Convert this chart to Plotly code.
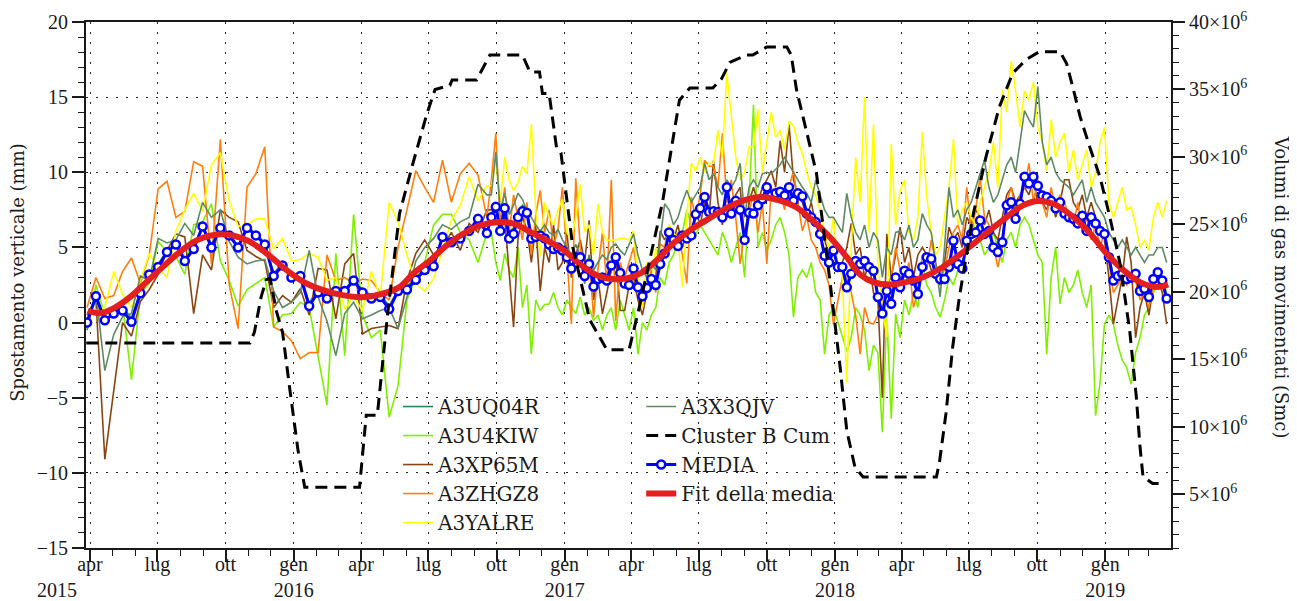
import pandas as pd
import plotly.graph_objects as go

# ---------------- acquisition dates (12-day revisit, then 6-day revisit) ----------------
SEG1_START, SEG1_N, SEG1_STEP = "2015-03-28", 46, "12D"
SEG2_START, SEG2_N, SEG2_STEP = "2016-09-24", 153, "6D"
dates = list(pd.date_range(SEG1_START, periods=SEG1_N, freq=SEG1_STEP)) + \
        list(pd.date_range(SEG2_START, periods=SEG2_N, freq=SEG2_STEP))

# ---------------- vertical displacement series (mm) ----------------
MEDIA = [
    0.0, 1.75, 0.15, 0.6, 0.8, 0.05, 1.95, 3.2, 3.7, 4.7,
    5.2, 4.1, 4.9, 6.4, 5.0, 6.3, 5.8, 5.0, 6.3, 5.8,
    5.2, 3.1, 3.8, 3.0, 3.1, 1.1, 2.0, 1.6, 2.1, 2.1,
    2.8, 2.0, 1.6, 1.7, 0.9, 2.1, 2.2, 2.85, 3.5, 3.75,
    5.7, 5.35, 5.6, 6.1, 6.9, 5.95,
    7.0, 7.7, 6.1, 7.6, 5.6, 5.9, 7.0, 7.4, 7.3, 5.6,
    5.7, 5.8, 5.6, 5.2, 4.9, 5.0, 4.8, 4.35, 3.6, 4.35,
    4.35, 3.1, 3.9, 2.4, 2.9, 3.0, 2.8, 3.8, 4.35, 3.3,
    2.6, 2.5, 3.6, 2.35, 1.75, 2.3, 2.9, 2.5, 3.9, 4.6,
    6.0, 5.5, 5.1, 5.8, 5.6, 5.8, 7.2, 7.6, 8.35, 7.35,
    7.4, 7.35, 7.0, 9.0, 7.25, 8.1, 7.5, 5.5, 7.3, 7.25,
    7.8, 8.2, 9.0, 8.45, 8.6, 8.7, 8.45, 9.0, 8.1, 8.6,
    8.4, 7.25, 7.0, 6.7, 5.9, 4.45, 4.0, 4.8, 3.7, 3.7,
    2.35, 3.25, 4.1, 3.9, 4.1, 3.7, 3.45, 1.7, 0.6, 2.1,
    1.25, 3.0, 2.35, 3.45, 3.25, 2.8, 1.9, 3.7, 4.35, 4.25,
    3.25, 2.9, 2.9, 3.7, 5.45, 3.9, 3.6, 5.45, 5.9, 6.0,
    6.8, 5.9, 6.1, 5.0, 4.7, 5.35, 7.8, 8.0, 6.9, 7.9,
    9.7, 9.25, 9.7, 9.1, 8.45, 8.35, 8.1, 7.6, 8.0, 7.25,
    7.0, 6.9, 6.6, 7.1, 6.1, 7.0, 6.6, 6.1, 5.9, 4.35,
    2.8, 3.1, 3.25, 2.9, 3.0, 3.25, 2.1, 2.25, 1.7, 2.9, 3.35, 2.8, 1.6,
]

A3UQ04R = [
    0.2, 1.9, 0.0, 0.8, 1.0, 0.3, 2.1, 3.3, 3.9, 4.8,
    5.3, 4.3, 5.0, 6.5, 5.2, 6.4, 5.9, 5.1, 6.4, 5.9,
    5.3, 3.3, 3.9, 3.2, 3.2, 1.3, 2.2, 1.8, 2.3, 2.2,
    2.9, 2.2, 1.8, 1.9, 1.1, 2.2, 2.4, 3.0, 3.6, 3.9,
    5.8, 5.5, 5.7, 6.2, 7.0, 6.1,
    7.2, 8.0, 6.5, 7.8, 6.0, 6.3, 7.4, 7.8, 7.5, 6.0,
    5.9, 6.0, 5.8, 5.5, 5.0, 5.2, 5.0, 4.6, 3.8, 4.5,
    4.5, 3.4, 4.2, 2.6, 3.1, 3.2, 3.0, 4.0, 4.5, 3.5,
    2.8, 2.7, 3.7, 2.5, 2.0, 2.4, 3.0, 2.7, 4.0, 4.7,
    6.0, 5.6, 5.3, 6.0, 5.8, 6.0, 7.3, 7.8, 8.4, 7.5,
    7.6, 7.5, 7.2, 9.0, 7.4, 8.2, 7.8, 5.8, 7.5, 7.4,
    7.9, 8.3, 9.1, 8.6, 8.8, 8.8, 8.6, 9.1, 8.3, 8.7,
    8.5, 7.4, 7.2, 6.9, 6.0, 4.6, 4.2, 5.0, 3.8, 3.8,
    2.6, 3.4, 4.3, 4.0, 4.3, 3.9, 3.6, 2.0, 0.8, 2.3,
    1.5, 3.2, 2.6, 3.6, 3.4, 3.0, 2.1, 3.9, 4.5, 4.4,
    3.4, 3.0, 3.1, 3.8, 5.5, 4.1, 3.8, 5.6, 6.0, 6.2,
    6.9, 6.0, 6.3, 5.2, 4.9, 5.5, 7.9, 8.2, 7.0, 8.0,
    9.8, 9.4, 9.8, 9.2, 8.6, 8.5, 8.2, 7.7, 8.1, 7.4,
    7.1, 7.0, 6.7, 7.2, 6.2, 7.1, 6.8, 6.3, 6.0, 4.5,
    3.0, 3.3, 3.4, 3.0, 3.1, 3.4, 2.2, 2.4, 1.8, 3.0, 3.5, 2.9, 1.7,
]

A3U4KIW = [
    -0.5, 2.5, 0.5, 0.8, 1.2, -3.8, 1.9, 2.6, 5.4, 4.7,
    4.4, 3.2, 6.5, 6.7, 7.9, 4.1, 2.8, 1.1, 2.2, 2.6,
    3.0, -0.3, 0.5, 0.6, 1.35, 1.0, -2.2, -5.5, 4.6, -2.2,
    7.2, 0.5, -1.0, -0.5, -6.3, -4.2, 1.5, 3.0, 4.0, 6.5,
    7.2, 7.2, 6.0, 5.5, 4.0, 6.0,
    6.0, 4.0, 2.8, 4.6, 3.5, 3.0, 5.0, 1.0, 2.5, -2.1,
    1.5, 0.8, 1.2, 1.24, 2.0, 1.0, 0.5, 1.5, 1.0, 0.6,
    1.69, 0.5, 1.0, 0.13, 0.5, -0.5, 0.5, 1.0, -0.5, 1.5,
    0.5, -0.5, 1.0, -2.1, 0.0, -0.5, 0.5, 1.0, 3.0, 2.5,
    4.0, 4.5, 5.5, 6.0, 7.5, 6.5, 5.8, 6.5, 6.0, 5.5,
    5.0, 4.5, 6.0, 5.24, 4.0, 5.0, 6.0, 3.0, 8.0, 14.5,
    5.0, 6.0, 4.8, 5.5, 6.5, 7.0, 6.0, 4.5, 0.36, 3.0,
    3.5, 3.0, 4.0, 2.0, 1.5, -2.1, 0.5, 1.0, 0.0, -1.0,
    -1.9, -1.0, 1.0, 0.5, -0.5, -3.2, -1.5, -2.0, -7.3, 0.5,
    -6.4, 0.58, -1.0, 1.5, 0.5, 2.0, 1.0, 3.9, 2.5, 2.0,
    1.0, 0.36, 1.5, 3.0, 2.5, 3.5, 4.0, 5.0, 7.0, 6.0,
    5.5, 4.5, 5.0, 6.0, 5.0, 4.0, 5.5, 6.0, 5.0, 6.5,
    7.0, 6.5, 5.5, 4.5, 4.0, -2.1, 3.0, 5.0, 1.24, 3.0,
    2.0, 2.5, 3.5, 2.0, 1.0, 2.5, -6.2, -4.0, -0.1, 0.5,
    -0.1, -1.5, -2.5, -3.0, -4.1, -2.0, -1.0, 0.5, 1.0, 2.0, 2.5, 3.0, 2.0,
]

A3XP65M = [
    0.5, 1.5, -9.1, -4.5, 0.0, -0.9, 1.4, 2.2, 3.2, 4.8,
    5.9, 5.7, 0.6, 4.5, 3.5, 7.5, 7.0, 6.7, 4.8, 4.4,
    4.1, 1.0, 1.8, 1.35, 2.25, 0.5, 3.6, 3.5, 0.25, 3.9,
    4.6, -0.75, -0.4, -0.3, -0.2, -0.4, 2.8, 4.6, 5.5, 4.5,
    5.0, 6.0, 4.8, 6.6, 6.0, 7.5,
    7.5, 8.0, 5.8, 7.0, 3.5, -0.3, 5.6, 7.0, 6.2, 4.0,
    6.5, 2.1, 5.0, 4.0, 6.5, 3.5, 4.0, 6.0, 3.0, 4.5,
    5.5, 4.0, 6.8, 1.5, 3.0, 0.58, 2.0, 3.5, 4.5, 0.8,
    0.8, 2.5, 3.0, 1.5, 0.5, 2.0, 2.5, 3.0, 6.1, 5.5,
    6.0, 5.5, 6.5, 5.0, 6.0, 5.5, 7.5, 6.5, 8.0, 7.0,
    10.8, 8.0, 6.5, 8.5, 7.0, 8.5, 9.0, 5.5, 8.0, 9.0,
    8.0, 9.0, 9.5, 10.1, 9.0, 12.1, 10.0, 13.2, 9.5, 8.5,
    8.0, 7.0, 8.0, 6.5, 6.0, 5.5, 4.5, 5.0, 3.5, 4.0,
    5.0, 6.6, 4.5, 5.0, 3.0, 4.0, 2.0, 1.5, -5.0, 5.9,
    3.0, 4.5, 6.35, 4.0, 5.0, 3.0, 4.5, 5.0, 4.5, 3.5,
    3.0, 2.5, 4.0, 6.35, 5.5, 6.0, 5.0, 7.0, 6.5, 7.5,
    7.0, 6.5, 7.5, 6.0, 5.5, 7.0, 8.5, 9.0, 8.0, 8.5,
    9.0, 8.5, 9.5, 8.0, 8.0, 7.5, 8.5, 7.0, 8.0, 9.5,
    9.5, 8.0, 7.5, 8.5, 7.0, 8.0, 7.0, 6.5, 5.5, 3.0,
    -0.1, 1.5, 3.0, 5.7, 4.0, -1.0, 1.0, 2.0, 0.5, 2.5, 3.0, 2.0, -0.1,
]

A3ZHGZ8 = [
    1.0, 3.0, 1.6, 1.8, 3.4, 4.3, 2.6, 4.5, 8.9, 9.4,
    7.0, 7.4, 10.7, 10.4, 3.9, 12.2, 2.5, -0.4, 9.0, 9.9,
    11.7, -0.3, -0.6, -1.2, -2.4, -2.0, -2.0, 4.5, 2.8, 3.0,
    2.6, 2.9, 2.8, 2.0, 1.5, 5.0, 7.5, 10.1, 9.0, 8.0,
    10.8, 8.0, 9.9, 10.6, 9.8, 7.0,
    9.5, 12.6, 6.5, 9.0, 6.0, 8.5, 7.0, 5.5, 8.0, 4.5,
    7.2, 8.8, 6.0, 7.5, 5.0, 6.2, 9.0, 4.2, -0.1, 9.6,
    5.0, 3.0, 4.5, 0.36, 3.5, 6.0, 2.5, 9.5, 0.13, 4.0,
    3.0, 4.0, 5.0, 3.0, 1.0, 2.5, 3.5, 2.0, 5.24, 5.0,
    6.5, 5.5, 6.0, 4.5, 2.6, 8.35, 7.0, 8.5, 10.8, 10.4,
    10.4, 9.0, 12.6, 8.0, 9.5, 7.0, 3.9, 6.0, 7.5, 8.5,
    6.0, 8.0, 3.9, 9.0, 8.0, 8.8, 7.5, 9.0, 10.1, 8.0,
    6.1, 7.0, 5.5, 5.0, 4.0, 3.5, 2.5, -0.1, 1.5, 3.0,
    3.0, 2.0, 0.5, -2.1, 1.0, 0.0, -0.1, 0.5, 1.5, 2.5,
    3.0, 5.0, 3.5, 3.0, 4.0, 1.0, 2.0, 4.5, 3.5, 5.5,
    4.0, 3.0, 3.5, 5.0, 6.0, 6.5, 5.5, 9.0, 6.0, 7.5,
    9.7, 7.0, 6.5, 5.0, 3.7, 5.0, 8.0, 9.0, 7.5, 8.5,
    9.0, 10.6, 8.0, 9.5, 8.0, 7.0, 9.0, 7.5, 8.5, 8.0,
    7.0, 6.5, 8.0, 6.0, 7.0, 5.5, 6.5, 5.0, 6.0, 4.0,
    2.0, 2.5, 3.0, 2.5, 3.0, 2.8, 1.5, 2.0, 1.0, 2.5, 3.0, 2.5, 1.5,
]

A3YALRE = [
    0.3, 0.8, 1.0, 3.4, 1.9, 1.0, 2.8, 4.6, 3.7, 3.0,
    6.1, 7.5, 8.6, 7.4, 10.5, 11.3, 8.1, 6.4, 6.5, 6.9,
    6.9, 4.9, 5.6, 4.1, 4.2, 4.6, 4.35, 2.8, 3.0, 0.9,
    1.7, 0.8, 3.4, 1.7, 8.0, 6.7, 4.5, 2.6, 2.1, 2.9,
    4.8, 6.8, 7.8, 9.7, 8.1, 9.1,
    9.1, 10.8, 8.0, 11.0, 9.5, 8.8, 9.3, 10.4, 9.9, 13.2,
    7.5, 4.4, 8.0, 7.0, 6.5, 7.5, 8.2, 6.0, 5.5, 7.0,
    9.2, 6.0, 6.5, 4.5, 7.9, 6.0, 5.47, 5.5, 5.5, 5.6,
    5.6, 5.5, 6.1, 3.0, 1.0, 4.0, 2.5, 5.0, 3.5, 4.5,
    6.5, 6.0, 5.5, 2.36, 7.0, 10.6, 10.1, 11.0, 10.0, 10.6,
    10.6, 12.8, 11.0, 16.6, 13.9, 11.0, 9.5, 10.0, 11.7, 11.7,
    14.2, 10.0, 12.0, 14.0, 12.35, 12.8, 11.5, 13.4, 13.1, 12.0,
    11.25, 10.0, 9.0, 8.5, 7.5, 6.0, 5.0, 7.0, 4.0, 3.0,
    -4.0, 5.0, 11.0, 8.0, 15.0, 6.0, 13.2, 4.0, 1.0, -1.0,
    11.9, 6.5, 8.8, 9.5, 6.0, 5.5, 7.0, 12.7, 8.35, 6.0,
    4.5, 5.0, 7.0, 9.0, 12.2, 6.5, 7.5, 8.0, 7.0, 6.5,
    8.0, 9.0, 10.0, 12.0, 9.0, 15.5, 14.0, 17.4, 15.4, 13.0,
    15.4, 14.8, 16.0, 13.0, 12.0, 10.1, 13.5, 11.0, 12.0, 12.6,
    10.0, 11.5, 9.5, 10.5, 11.5, 9.0, 10.0, 12.0, 13.0, 8.0,
    7.0, 8.0, 9.0, 7.5, 7.7, 6.5, 5.0, 5.5, 4.8, 7.0, 8.0, 7.0, 8.1,
]

A3X3QJV = [
    -0.5, 2.0, -3.2, -0.8, 0.4, 0.6, 3.1, 2.8, 5.6, 5.3,
    5.5, 6.6, 5.8, 8.0, 7.0, 7.5, 5.4, 4.35, 3.9, 4.1,
    4.2, 2.1, 1.0, 1.35, 2.0, 4.8, 1.7, 0.1, -2.2, 0.6,
    1.35, 0.25, 0.5, 0.8, 1.0, -0.4, 1.7, 4.1, 5.0, 5.6,
    6.5, 6.2, 6.7, 7.0, 9.2, 8.5,
    8.5, 11.35, 7.5, 8.6, 7.2, 7.8, 8.6, 8.2, 7.4, 7.0,
    6.5, 6.1, 6.5, 6.0, 5.8, 6.2, 5.5, 5.0, 4.5, 5.2,
    4.5, 2.58, 4.5, 3.5, 4.0, 4.5, 4.2, 5.0, 5.24, 4.8,
    4.5, 5.24, 5.9, 4.5, 3.5, 3.0, 4.0, 3.5, 5.5, 7.9,
    7.5, 6.5, 7.0, 8.0, 8.8, 8.0, 8.5, 9.0, 10.6, 9.5,
    9.9, 9.0, 8.5, 9.5, 9.0, 9.5, 10.6, 7.0, 9.0, 9.5,
    9.0, 9.9, 10.0, 9.9, 10.2, 10.5, 11.0, 10.5, 10.0, 9.5,
    9.0, 8.6, 8.0, 9.5, 8.5, 7.5, 7.0, 7.0, 6.5, 6.0,
    8.6, 7.0, 6.0, 5.5, 6.5, 5.0, 6.0, 5.5, 3.0, 5.0,
    4.5, 6.0, 6.1, 5.5, 6.5, 5.0, 5.5, 7.25, 6.5, 6.0,
    4.0, 1.7, 5.0, 9.0, 7.0, 7.5, 6.5, 7.5, 8.0, 9.0,
    9.9, 10.8, 9.0, 8.0, 8.5, 9.5, 10.5, 11.0, 10.0, 12.0,
    14.1, 13.5, 13.0, 15.7, 12.0, 10.5, 11.0, 10.0, 9.5, 9.25,
    9.0, 8.5, 9.0, 9.5, 8.0, 9.0, 8.0, 7.5, 7.0, 6.0,
    5.5, 5.0, 5.5, 5.0, 4.5, 5.0, 4.5, 4.0, 4.5, 4.5, 5.0, 5.0, 4.0,
]

# ---------------- fit of the mean (mm), read at control dates ----------------
FIT_DATES = [
    "2015-03-29", "2015-04-14", "2015-05-02", "2015-05-25", "2015-06-16", "2015-07-08",
    "2015-07-31", "2015-08-23", "2015-09-26", "2015-10-30", "2015-11-26", "2015-12-23",
    "2016-01-19", "2016-02-24", "2016-03-31", "2016-04-26", "2016-05-23", "2016-06-10",
    "2016-07-03", "2016-07-25", "2016-08-17", "2016-09-09", "2016-10-04", "2016-10-24",
    "2016-11-16", "2016-12-08", "2016-12-31", "2017-01-21", "2017-02-14", "2017-03-14",
    "2017-04-12", "2017-05-05", "2017-05-27", "2017-06-19", "2017-07-11", "2017-08-02",
    "2017-08-25", "2017-09-21", "2017-10-18", "2017-11-09", "2017-12-02", "2017-12-25",
    "2018-01-17", "2018-02-04", "2018-02-22", "2018-03-16", "2018-04-07", "2018-04-30",
    "2018-05-23", "2018-06-14", "2018-07-07", "2018-07-29", "2018-08-21", "2018-09-12",
    "2018-10-03", "2018-10-23", "2018-11-19", "2018-12-12", "2019-01-03", "2019-01-26",
    "2019-02-17", "2019-03-11", "2019-03-27",
]
FIT_VALUES = [
    0.8, 0.62, 0.93, 1.69, 2.69, 3.69,
    4.69, 5.47, 5.87, 5.47, 4.58, 3.47,
    2.58, 1.96, 1.69, 1.87, 2.36, 3.24,
    4.13, 5.1, 5.91, 6.47, 6.69, 6.58,
    6.02, 5.47, 4.8, 3.91, 3.13, 2.88,
    3.24, 4.13, 5.24, 6.13, 6.8, 7.47,
    8.02, 8.35, 8.13, 7.69, 6.8, 5.69,
    4.35, 3.2, 2.69, 2.53, 2.69, 3.02,
    3.58, 4.35, 5.24, 6.13, 7.02, 7.8,
    8.09, 7.91, 7.02, 5.91, 4.58, 3.47,
    2.69, 2.36, 2.53,
]

# ---------------- Cluster B cumulative gas volume (Smc) ----------------
CLUSTER_DATES = [
    "2015-03-27", "2015-11-03", "2015-11-09", "2015-11-18", "2015-11-25", "2015-11-30",
    "2015-12-09", "2015-12-17", "2015-12-27", "2016-01-07", "2016-01-16", "2016-03-30",
    "2016-04-08", "2016-04-23", "2016-05-07", "2016-05-23", "2016-06-10", "2016-06-29",
    "2016-07-10", "2016-07-30", "2016-08-02", "2016-09-04", "2016-09-22", "2016-11-05",
    "2016-11-15", "2016-11-28", "2016-12-02", "2016-12-11", "2016-12-21", "2016-12-27",
    "2017-01-12", "2017-02-04", "2017-02-27", "2017-03-29", "2017-04-12", "2017-05-13",
    "2017-06-05", "2017-06-19", "2017-07-20", "2017-08-01", "2017-08-12", "2017-09-04",
    "2017-09-12", "2017-10-01", "2017-10-28", "2017-11-03", "2017-11-10", "2017-12-07",
    "2017-12-25", "2018-01-08", "2018-01-17", "2018-01-28", "2018-02-08", "2018-05-18",
    "2018-05-22", "2018-05-31", "2018-06-09", "2018-06-18", "2018-07-07", "2018-07-24",
    "2018-08-11", "2018-08-29", "2018-09-16", "2018-10-04", "2018-11-01", "2018-11-10",
    "2018-11-19", "2018-11-28", "2018-12-11", "2018-12-25", "2019-01-07", "2019-01-21",
    "2019-02-03", "2019-02-12", "2019-02-17", "2019-02-21", "2019-03-06", "2019-03-22",
]
CLUSTER_MSMC = [
    16.2, 16.2, 17.0, 19.6, 20.9, 21.0,
    18.5, 17.0, 12.7, 8.2, 5.5, 5.5,
    10.85, 10.85, 18.4, 25.8, 29.5, 33.2,
    35.0, 35.3, 35.7, 35.7, 37.55, 37.55,
    36.3, 36.3, 34.7, 34.7, 30.7, 30.3,
    23.3, 17.9, 15.7, 15.7, 18.9, 26.6,
    34.2, 35.1, 35.1, 35.8, 37.0, 37.55,
    37.55, 38.15, 38.15, 37.55, 35.0, 28.8,
    20.9, 14.4, 9.7, 7.0, 6.27, 6.27,
    7.3, 11.0, 15.9, 19.6, 25.8, 30.0,
    33.7, 36.2, 37.2, 37.8, 37.8, 36.9,
    35.0, 33.0, 30.75, 28.5, 25.6, 22.1,
    17.15, 12.2, 8.5, 6.3, 5.78, 5.78,
]
CLUSTER_SMC = [v * 1e6 for v in CLUSTER_MSMC]

# ---------------- axes ----------------
X_RANGE = ["2015-03-26 14:00", "2019-03-30 20:00"]
X_TICK_DATES = ["2015-04-01", "2015-07-01", "2015-10-01", "2016-01-01", "2016-04-01",
                "2016-07-01", "2016-10-01", "2017-01-01", "2017-04-01", "2017-07-01",
                "2017-10-01", "2018-01-01", "2018-04-01", "2018-07-01", "2018-10-01",
                "2019-01-01"]
X_TICK_TEXT = ["apr", "lug", "ott", "gen<br>2016", "apr", "lug", "ott", "gen<br>2017",
               "apr", "lug", "ott", "gen<br>2018", "apr", "lug", "ott", "gen<br>2019"]
X_MINOR = [d.strftime("%Y-%m-%d") for d in pd.date_range("2015-04-01", "2019-03-01", freq="MS")]
Y2_TICKS = [5e6, 10e6, 15e6, 20e6, 25e6, 30e6, 35e6, 40e6]
Y2_TEXT = ["%d×10<sup>6</sup>" % int(v / 1e6) for v in Y2_TICKS]

for name, s in [("MEDIA", MEDIA), ("A3UQ04R", A3UQ04R), ("A3U4KIW", A3U4KIW), ("A3XP65M", A3XP65M),
                ("A3ZHGZ8", A3ZHGZ8), ("A3YALRE", A3YALRE), ("A3X3QJV", A3X3QJV)]:
    assert len(s) == len(dates), (name, len(s), len(dates))
assert len(FIT_DATES) == len(FIT_VALUES)
assert len(CLUSTER_DATES) == len(CLUSTER_MSMC)

FONT = "Liberation Serif"
WIDE = "DejaVu Serif"
INK = "#1a1a1a"

fig = go.Figure()
sensors = [
    ("A3UQ04R", A3UQ04R, "#23895a", "legend"),
    ("A3U4KIW", A3U4KIW, "#80f000", "legend"),
    ("A3XP65M", A3XP65M, "#8a4513", "legend"),
    ("A3ZHGZ8", A3ZHGZ8, "#ff7f0e", "legend"),
    ("A3YALRE", A3YALRE, "#ffff00", "legend"),
    ("A3X3QJV", A3X3QJV, "#5f8a62", "legend2"),
]
for name, vals, col, lg in sensors:
    fig.add_trace(go.Scatter(x=dates, y=vals, name=name, mode="lines",
                             line=dict(color=col, width=1.6), legend=lg))

fig.add_trace(go.Scatter(x=CLUSTER_DATES, y=CLUSTER_SMC, name="Cluster B Cum", mode="lines",
                         line=dict(color="black", width=3, dash="12px,7px"),
                         yaxis="y2", legend="legend2"))
fig.add_trace(go.Scatter(x=dates, y=MEDIA, name="MEDIA", mode="lines+markers",
                         line=dict(color="#0000ff", width=3),
                         marker=dict(symbol="circle", size=8, color="white",
                                     line=dict(color="#0000ff", width=2.5)),
                         legend="legend2"))
fig.add_trace(go.Scatter(x=FIT_DATES, y=FIT_VALUES, name="Fit della media", mode="lines",
                         line=dict(color="#e3201e", width=6, shape="spline", smoothing=1.0),
                         legend="legend2"))

axis_common = dict(showline=True, linecolor=INK, linewidth=2, ticks="outside", ticklen=12,
                   tickwidth=1.5, tickcolor=INK, zeroline=False, automargin=False,
                   tickfont=dict(family=FONT, size=20, color=INK))
grid = dict(showgrid=True, gridcolor="#222222", gridwidth=1.3, griddash="2px,8px")

# the page body has an 8px margin, so the figure is sized to fit the 1297x601 window
fig.update_layout(
    width=1289, height=593,
    margin=dict(l=78, r=126, t=14, b=53, autoexpand=False),
    template="none",
    paper_bgcolor="white", plot_bgcolor="white",
    font=dict(family=FONT, size=20, color=INK),
    showlegend=True,
    xaxis=dict(type="date", range=X_RANGE, tickmode="array", tickvals=X_TICK_DATES,
               ticktext=X_TICK_TEXT, mirror=True, ticklabelstandoff=-15,
               minor=dict(tickvals=X_MINOR, ticks="outside", ticklen=6, tickwidth=1.2,
                          tickcolor=INK, showgrid=False),
               **grid, **axis_common),
    yaxis=dict(range=[-15, 20], tick0=0, dtick=5,
               minor=dict(dtick=1, ticks="outside", ticklen=6, tickwidth=1.2,
                          tickcolor=INK, showgrid=False),
               **grid, **axis_common),
    yaxis2=dict(overlaying="y", side="right", range=[1e6, 40e6], tickmode="array",
                tickvals=Y2_TICKS, ticktext=Y2_TEXT, showgrid=False,
                minor=dict(dtick=1e6, tick0=0, ticks="outside", ticklen=6, tickwidth=1.2,
                           tickcolor=INK, showgrid=False),
                **axis_common),
    legend=dict(x=0.2876, y=0.306, xanchor="left", yanchor="top", bgcolor="rgba(0,0,0,0)",
                font=dict(family=WIDE, size=20, color=INK), tracegroupgap=0, borderwidth=0),
    legend2=dict(x=0.5117, y=0.306, xanchor="left", yanchor="top", bgcolor="rgba(0,0,0,0)",
                 font=dict(family=WIDE, size=20, color=INK), tracegroupgap=0, borderwidth=0),
    annotations=[
        dict(text="Spostamento verticale (mm)", xref="paper", yref="paper", x=-0.0627, y=0.525,
             textangle=-90, showarrow=False, xanchor="center", yanchor="middle",
             font=dict(family=WIDE, size=18, color=INK)),
        dict(text="Volumi di gas movimentati (Smc)", xref="paper", yref="paper", x=1.1026, y=0.496,
             textangle=90, showarrow=False, xanchor="center", yanchor="middle",
             font=dict(family=WIDE, size=18, color=INK)),
        dict(text="2015", xref="paper", yref="paper", x=-0.0267, y=-0.079, showarrow=False,
             xanchor="center", yanchor="middle", font=dict(family=FONT, size=20, color=INK)),
    ],
)

fig.write_html("out.html")
